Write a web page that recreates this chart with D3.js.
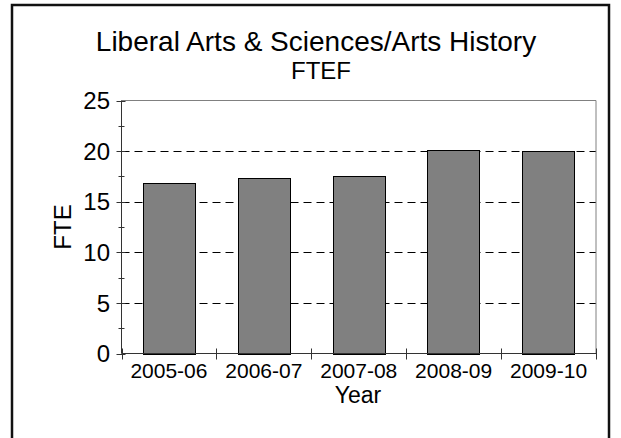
<!DOCTYPE html>
<html>
<head>
<meta charset="utf-8">
<script src="https://cdn.jsdelivr.net/npm/d3@7"></script>
<style>
  html, body { margin: 0; padding: 0; background: #fff; }
  svg { display: block; font-family: "Liberation Sans", Arial, sans-serif; }
</style>
</head>
<body>
<script>
const categories = ["2005-06", "2006-07", "2007-08", "2008-09", "2009-10"];
const fteValues = [16.88, 17.32, 17.55, 20.1, 20.05];
const yTicks = [0, 5, 10, 15, 20, 25];
const yMinorTicks = [2.5, 7.5, 12.5, 17.5, 22.5];
const gridValues = [5, 10, 15, 20];
const titleLines = ["Liberal Arts & Sciences/Arts History", "FTEF"];
const xTitle = "Year";
const yTitle = "FTE";

(function () {
const W = 621, H = 438;
const pLeft = 121.5, pRight = 596, pTop = 100.5, pBottom = 353.5;

const svg = d3.select("body").append("svg").attr("width", W).attr("height", H);

// outer frame
svg.append("rect")
  .attr("x", 12).attr("y", 5).attr("width", 597).attr("height", 450)
  .attr("fill", "none").attr("stroke", "#111").attr("stroke-width", 2.5);

const x = d3.scaleBand().domain(categories).range([pLeft, pRight])
  .paddingInner(0.447).paddingOuter(0.2235);
const y = d3.scaleLinear().domain([0, 25]).range([pBottom, pTop]);

// gridlines
svg.append("g").selectAll("line").data(gridValues).join("line")
  .attr("x1", pLeft).attr("x2", pRight)
  .attr("y1", d => Math.round(y(d)) + 0.5).attr("y2", d => Math.round(y(d)) + 0.5)
  .attr("stroke", "#000").attr("stroke-width", 1).attr("stroke-dasharray", "8,5");

// plot frame top & right
svg.append("line").attr("x1", pLeft).attr("x2", pRight).attr("y1", y(25)).attr("y2", y(25))
  .attr("stroke", "#808080").attr("stroke-width", 1);
svg.append("line").attr("x1", pRight).attr("x2", pRight).attr("y1", y(25)).attr("y2", y(0))
  .attr("stroke", "#808080").attr("stroke-width", 1);

// bars
svg.append("g").selectAll("rect").data(fteValues).join("rect")
  .attr("x", (d, i) => Math.round(x(categories[i])) + 0.5)
  .attr("width", Math.round(x.bandwidth()))
  .attr("y", d => Math.round(y(d)) + 0.5)
  .attr("height", d => Math.round(y(0)) - Math.round(y(d)))
  .attr("fill", "#808080").attr("stroke", "#000").attr("stroke-width", 1);

// axes lines
svg.append("line").attr("x1", pLeft).attr("x2", pLeft).attr("y1", pTop).attr("y2", pBottom)
  .attr("stroke", "#333").attr("stroke-width", 1);
svg.append("line").attr("x1", pLeft).attr("x2", pRight).attr("y1", pBottom).attr("y2", pBottom)
  .attr("stroke", "#333").attr("stroke-width", 1);

// y ticks
svg.append("g").selectAll("line").data(yTicks).join("line")
  .attr("x1", pLeft - 5).attr("x2", pLeft + 4)
  .attr("y1", d => Math.round(y(d)) + 0.5).attr("y2", d => Math.round(y(d)) + 0.5)
  .attr("stroke", "#333");
svg.append("g").selectAll("line").data(yMinorTicks).join("line")
  .attr("x1", pLeft - 3).attr("x2", pLeft + 3)
  .attr("y1", d => Math.round(y(d)) + 0.5).attr("y2", d => Math.round(y(d)) + 0.5)
  .attr("stroke", "#333");
svg.append("g").selectAll("text").data(yTicks).join("text")
  .attr("x", 110).attr("y", d => y(d)).attr("dy", "0.36em")
  .attr("text-anchor", "end").attr("font-size", 24).attr("fill", "#000")
  .text(d => d);

// x ticks at category boundaries
const bounds = d3.range(categories.length + 1);
svg.append("g").selectAll("line").data(bounds).join("line")
  .attr("x1", i => Math.round(pLeft + i * x.step()) + 0.5)
  .attr("x2", i => Math.round(pLeft + i * x.step()) + 0.5)
  .attr("y1", pBottom - 5).attr("y2", pBottom + 6)
  .attr("stroke", "#333");
svg.append("g").selectAll("text").data(categories).join("text")
  .attr("x", d => x(d) + x.bandwidth() / 2).attr("y", 377.5)
  .attr("text-anchor", "middle").attr("font-size", 21).attr("fill", "#000")
  .text(d => d);

// axis titles
svg.append("text").attr("x", 358).attr("y", 403)
  .attr("text-anchor", "middle").attr("font-size", 23).text(xTitle);
svg.append("text").attr("transform", "translate(70.5,227) rotate(-90)")
  .attr("text-anchor", "middle").attr("font-size", 24).text(yTitle);

// title
svg.append("text").attr("x", 316).attr("y", 51)
  .attr("text-anchor", "middle").attr("font-size", 28).text(titleLines[0]);
svg.append("text").attr("x", 321).attr("y", 79)
  .attr("text-anchor", "middle").attr("font-size", 24).text(titleLines[1]);
})();
</script>
</body>
</html>
